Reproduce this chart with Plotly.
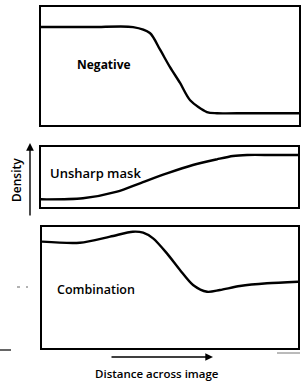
import plotly.graph_objects as go

W, H = 304, 386

# ---- data (distance across image, 0-100; density, arbitrary units) ----
neg_x = [0, 20, 35.7, 42.2, 46.1, 50.0, 53.9, 57.8, 64.3, 68.2, 80, 100]
neg_y = [8.3, 8.3, 8.3, 7.8, 6.4, 4.9, 3.56, 2.1, 1.1, 1.0, 1.0, 1.0]

mask_x = [0, 16.3, 29.6, 38.5, 49.0, 59.1, 68.5, 74.7, 80.2, 90, 100]
mask_y = [1.28, 1.45, 2.55, 3.95, 5.6, 7.0, 7.95, 8.5, 8.67, 8.67, 8.67]

comb_x = [0, 14.8, 26.6, 35.5, 39.5, 43.4, 48.8, 53.9, 59.0, 64.5, 69.5, 77.3, 87.9, 100]
comb_y = [8.79, 8.70, 9.2, 9.61, 9.53, 9.06, 7.82, 6.45, 5.21, 4.65, 4.79, 5.12, 5.35, 5.48]

panel_labels = ["Negative", "Unsharp mask", "Combination"]
y_title = "Density"
x_title = "Distance across image"

FONT = "Open Sans, Liberation Sans, Arial, sans-serif"


def px(x):
    return x / W


def py(y):
    return 1 - y / H


fig = go.Figure()
for xs, ys, xa, ya in [(neg_x, neg_y, "x", "y"), (mask_x, mask_y, "x2", "y2"),
                       (comb_x, comb_y, "x3", "y3")]:
    fig.add_trace(go.Scatter(x=xs, y=ys, mode="lines", xaxis=xa, yaxis=ya,
                             line=dict(color="black", width=2.4, shape="spline", smoothing=0.8)))

ax_common = dict(showline=True, mirror=True, linecolor="black", linewidth=1.8,
                 showticklabels=False, showgrid=False, zeroline=False, ticks="",
                 fixedrange=True)

fig.update_layout(
    width=W, height=H, autosize=False,
    margin=dict(l=0, r=0, t=0, b=0),
    paper_bgcolor="white", plot_bgcolor="white",
    showlegend=False,
    font=dict(family=FONT, color="black"),
    xaxis=dict(domain=[px(41), px(299)], anchor="y", range=[0, 100], **ax_common),
    yaxis=dict(domain=[py(125), py(7)], anchor="x", range=[0, 10], **ax_common),
    xaxis2=dict(domain=[px(41), px(298)], anchor="y2", range=[0, 100], **ax_common),
    yaxis2=dict(domain=[py(207), py(147)], anchor="x2", range=[0, 10], **ax_common),
    xaxis3=dict(domain=[px(42), px(298)], anchor="y3", range=[0, 100], **ax_common),
    yaxis3=dict(domain=[py(348), py(227)], anchor="x3", range=[0, 10], **ax_common),
)

ann = [
    dict(text=panel_labels[0], x=px(75), y=py(65), xanchor="left", yanchor="middle",
         font=dict(size=12, weight=700), showarrow=False),
    dict(text=panel_labels[1], x=px(48), y=py(173), xanchor="left", yanchor="middle",
         font=dict(size=13, weight=600), showarrow=False),
    dict(text=panel_labels[2], x=px(55), y=py(289), xanchor="left", yanchor="middle",
         font=dict(size=12.5, weight=600), showarrow=False),
    dict(text=y_title, x=px(16), y=py(180), xanchor="center", yanchor="middle",
         textangle=-90, font=dict(size=12, weight=600), showarrow=False),
    dict(text=x_title, x=px(157), y=py(373), xanchor="center", yanchor="middle",
         font=dict(size=11.5, weight=600), showarrow=False),
    # Density arrow
    dict(text="", x=px(30), y=py(143), showarrow=True,
         ax=0, ay=74, arrowhead=2, arrowsize=1.1, arrowwidth=1.4, arrowcolor="black"),
    # Distance arrow
    dict(text="", x=px(213), y=py(357), showarrow=True,
         ax=-103, ay=0, arrowhead=2, arrowsize=1.1, arrowwidth=1.4, arrowcolor="black"),
]
for a in ann:
    a.setdefault("xref", "paper")
    a.setdefault("yref", "paper")
fig.update_layout(annotations=ann)

# faint scan marks
shapes = [
    dict(type="line", xref="paper", yref="paper", x0=px(0), x1=px(11), y0=py(350), y1=py(350),
         line=dict(color="#333", width=1.5)),
    dict(type="line", xref="paper", yref="paper", x0=px(277), x1=px(300), y0=py(353), y1=py(353),
         line=dict(color="#777", width=1)),
    dict(type="line", xref="paper", yref="paper", x0=px(17), x1=px(20), y0=py(287), y1=py(287),
         line=dict(color="#666", width=1)),
    dict(type="line", xref="paper", yref="paper", x0=px(26), x1=px(28), y0=py(287), y1=py(287),
         line=dict(color="#666", width=1)),
]
fig.update_layout(shapes=shapes)

fig.write_html("out.html")
